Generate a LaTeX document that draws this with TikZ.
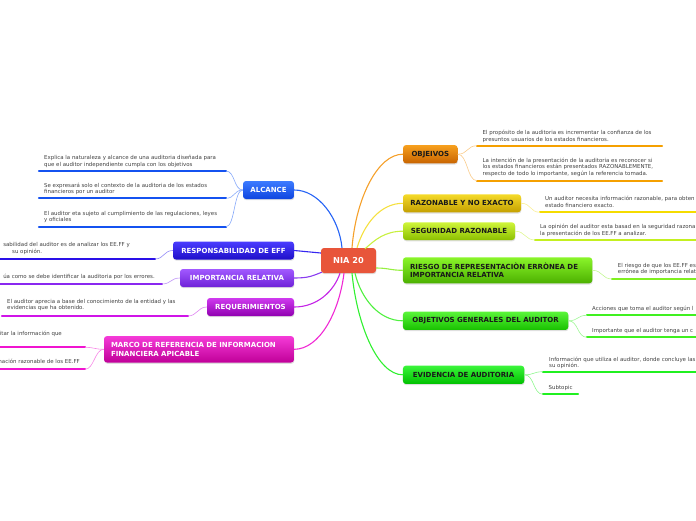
\documentclass[tikz,border=0pt]{standalone}
\usepackage{fontspec}
\setmainfont{DejaVu Sans}
\usetikzlibrary{shadows}
\definecolor{leafgray}{HTML}{404040}
\definecolor{niared}{HTML}{E8553A}
\definecolor{alcT}{HTML}{3D7BFF}\definecolor{alcB}{HTML}{0E45E0}\definecolor{alcC}{HTML}{2563F5}\definecolor{alcU}{HTML}{1452F0}
\definecolor{resT}{HTML}{4A3CFF}\definecolor{resB}{HTML}{1E0EC8}\definecolor{resC}{HTML}{3526F0}\definecolor{resU}{HTML}{2A10E8}
\definecolor{impT}{HTML}{A259FF}\definecolor{impB}{HTML}{6E22D8}\definecolor{impC}{HTML}{8A3CF0}\definecolor{impU}{HTML}{8A28F0}
\definecolor{reqT}{HTML}{CF3AEF}\definecolor{reqB}{HTML}{9000B0}\definecolor{reqC}{HTML}{C424E6}\definecolor{reqU}{HTML}{D014E8}
\definecolor{marT}{HTML}{F53BD8}\definecolor{marB}{HTML}{C00098}\definecolor{marC}{HTML}{F028D4}\definecolor{marU}{HTML}{F014D0}
\definecolor{objT}{HTML}{F7A01E}\definecolor{objB}{HTML}{C86400}\definecolor{objC}{HTML}{F5A02A}\definecolor{objU}{HTML}{F5A000}
\definecolor{razT}{HTML}{F5DA2A}\definecolor{razB}{HTML}{C4A000}\definecolor{razC}{HTML}{F5E040}\definecolor{razU}{HTML}{F5DC00}
\definecolor{segT}{HTML}{CFF53A}\definecolor{segB}{HTML}{8CC000}\definecolor{segC}{HTML}{C8F040}\definecolor{segU}{HTML}{C4F020}
\definecolor{rieT}{HTML}{8AF52A}\definecolor{rieB}{HTML}{4CB000}\definecolor{rieC}{HTML}{96F040}\definecolor{rieU}{HTML}{80F020}
\definecolor{ogT}{HTML}{5AF53A}\definecolor{ogB}{HTML}{18C000}\definecolor{ogC}{HTML}{50F040}\definecolor{ogU}{HTML}{40F020}
\definecolor{evT}{HTML}{3AF53A}\definecolor{evB}{HTML}{00C000}\definecolor{evC}{HTML}{30F030}\definecolor{evU}{HTML}{20F020}
\begin{document}
\begin{tikzpicture}[x=1pt,y=-1pt,
  mainbox/.style={rounded corners=3pt, inner sep=0pt, font=\fontsize{7}{8.3}\selectfont\bfseries,
    drop shadow={opacity=0.25, shadow xshift=0.4pt, shadow yshift=-1.2pt}},
  wtxt/.style={text=white},
  btxt/.style={text=black!90},
  leaf/.style={inner sep=0pt, align=left, anchor=north west, text=leafgray, font=\fontsize{5.45}{6.3}\selectfont},
  cut/.style={inner sep=0pt, text=leafgray, font=\fontsize{5.45}{6.3}\selectfont},
  conn/.style={line width=1.1pt},
  lconn/.style={line width=0.6pt},
  uline/.style={line width=2.2pt, line cap=round}]
\useasboundingbox (0,0) rectangle (696,520);
\clip (0,0) rectangle (696,520);

% ---------- main nodes ----------
\node[mainbox, fill=niared, wtxt, minimum width=55pt, minimum height=25pt, font=\fontsize{8.2}{9}\selectfont\bfseries] (nia) at (348.5,260.5) {NIA 20};
\node[mainbox, top color=alcT, bottom color=alcB, wtxt, minimum width=51pt, minimum height=18pt] (alc) at (268.5,190) {ALCANCE};
\node[mainbox, top color=resT, bottom color=resB, wtxt, minimum width=121pt, minimum height=18pt] (res) at (233.5,250.5) {RESPONSABILIDAD DE EFF};
\node[mainbox, top color=impT, bottom color=impB, wtxt, minimum width=114pt, minimum height=18pt] (imp) at (237,278) {IMPORTANCIA RELATIVA};
\node[mainbox, top color=reqT, bottom color=reqB, wtxt, minimum width=87pt, minimum height=18pt] (req) at (250.5,307) {REQUERIMIENTOS};
\node[mainbox, top color=marT, bottom color=marB, wtxt, minimum width=190pt, minimum height=26.5pt, text width=176pt, align=left] (mar) at (199,349.3) {MARCO DE REFERENCIA DE INFORMACION\\FINANCIERA APICABLE};
\node[mainbox, top color=objT, bottom color=objB, btxt, minimum width=54.5pt, minimum height=18.3pt] (obj) at (430.3,154.2) {OBJEIVOS};
\node[mainbox, top color=razT, bottom color=razB, btxt, minimum width=118pt, minimum height=18pt] (raz) at (462,203.3) {RAZONABLE Y NO EXACTO};
\node[mainbox, top color=segT, bottom color=segB, btxt, minimum width=112pt, minimum height=17.7pt] (seg) at (459,231.2) {SEGURIDAD RAZONABLE};
\node[mainbox, top color=rieT, bottom color=rieB, btxt, minimum width=189.3pt, minimum height=26pt, text width=175pt, align=left] (rie) at (497.6,270.3) {RIESGO DE REPRESENTACIÒN ERRÒNEA DE\\IMPORTANCIA RELATIVA};
\node[mainbox, top color=ogT, bottom color=ogB, btxt, minimum width=165.3pt, minimum height=18.3pt] (og) at (485.6,320.8) {OBJETIVOS GENERALES DEL AUDITOR};
\node[mainbox, top color=evT, bottom color=evB, btxt, minimum width=121.3pt, minimum height=18.3pt] (ev) at (463.6,374.8) {EVIDENCIA DE AUDITORIA};

% ---------- main connectors ----------
\draw[conn, alcC] ([xshift=-6.5pt]nia.north) .. controls +(-3,-30) and +(24,0) .. (alc.east);
\draw[conn, resC] ([yshift=7.5pt]nia.west) -- (res.east);
\draw[conn, impC] ([xshift=1pt,yshift=1pt]nia.south west) .. controls +(-10,4) and +(14,0) .. (imp.east);
\draw[conn, reqC] ([xshift=-8.5pt]nia.south) .. controls +(-6,18) and +(23,0) .. (req.east);
\draw[conn, marC] ([xshift=-4.5pt]nia.south) .. controls +(-5,40) and +(25,0) .. (mar.east);
\draw[conn, objC] ([xshift=3.5pt]nia.north) .. controls +(4,-50) and +(-25,0) .. (obj.west);
\draw[conn, razC] ([xshift=8.5pt]nia.north) .. controls +(7,-23) and +(-23,0) .. (raz.west);
\draw[conn, segC] ([xshift=16.5pt,yshift=-1pt]nia.north) .. controls +(10,-9) and +(-18,0) .. (seg.west);
\draw[conn, rieC] ([yshift=-7.5pt]nia.east) .. controls +(12,0) and +(-12,0) .. (rie.west);
\draw[conn, ogC] ([xshift=6.5pt]nia.south) .. controls +(6,25) and +(-24,0) .. (og.west);
\draw[conn, evC] ([xshift=3.5pt]nia.south) .. controls +(5,52) and +(-25,0) .. (ev.west);

% ---------- ALCANCE leaves ----------
\coordinate (a1l) at (39,171); \coordinate (a1r) at (226,171);
\coordinate (a2l) at (39,198.3); \coordinate (a2r) at (226,198.3);
\coordinate (a3l) at (39,226.7); \coordinate (a3r) at (226,226.7);
\node[leaf] (a1t) at (44,155.3) {Explica la naturaleza y alcance de una auditoria diseñada para\\que el auditor independiente cumpla con los objetivos};
\node[leaf] (a2t) at (44,183) {Se expresará solo el contexto de la auditoria de los estados\\financieros por un auditor};
\node[leaf] (a3t) at (44,211) {El auditor eta sujeto al cumplimiento de las regulaciones, leyes\\y oficiales};
\draw[uline, alcU] (a1l) -- (a1r);
\draw[uline, alcU] (a2l) -- (a2r);
\draw[uline, alcU] (a3l) -- (a3r);
\draw[lconn, alcC!55!white] (alc.west) .. controls +(-9,0) and +(9,0) .. (a1r);
\draw[lconn, alcC!55!white] (alc.west) .. controls +(-9,0) and +(9,0) .. (a2r);
\draw[lconn, alcC!55!white] (alc.west) .. controls +(-9,0) and +(9,0) .. (a3r);

% ---------- RESPONSABILIDAD leaf ----------
\coordinate (r1l) at (-5,259); \coordinate (r1r) at (155,259);
\node[cut, anchor=base east] (r1a) at (130,246.6) {sabilidad del auditor es de analizar los EE.FF y};
\node[cut, anchor=base west] (r1b) at (12,253.9) {su opinión.};
\draw[uline, resU] (r1l) -- (r1r);
\draw[lconn, resC!55!white] (res.west) .. controls +(-9,0) and +(9,0) .. (r1r);

% ---------- IMPORTANCIA leaf ----------
\coordinate (i1l) at (-5,284); \coordinate (i1r) at (162,284);
\node[cut, anchor=base east] (i1a) at (155,278.9) {úa como se debe identificar la auditoria por los errores.};
\draw[uline, impU] (i1l) -- (i1r);
\draw[lconn, impC!55!white] (imp.west) .. controls +(-9,0) and +(9,0) .. (i1r);

% ---------- REQUERIMIENTOS leaf ----------
\coordinate (q1l) at (2,316); \coordinate (q1r) at (188,316);
\node[leaf] (q1t) at (7,298.7) {El auditor aprecia a base del conocimiento de la entidad y las\\evidencias que ha obtenido.};
\draw[uline, reqU] (q1l) -- (q1r);
\draw[lconn, reqC!55!white] (req.west) .. controls +(-9,0) and +(9,0) .. (q1r);

% ---------- MARCO leaves ----------
\coordinate (m1l) at (-5,347.3); \coordinate (m1r) at (85,347.3);
\coordinate (m2l) at (-5,369.3); \coordinate (m2r) at (85,369.3);
\node[cut, anchor=base east] (m1a) at (62,335.6) {itar la información que};
\node[cut, anchor=base east] (m2a) at (80,363.3) {mación razonable de los EE.FF};
\draw[uline, marU] (m1l) -- (m1r);
\draw[uline, marU] (m2l) -- (m2r);
\draw[lconn, marC!55!white] (mar.west) .. controls +(-9,0) and +(9,0) .. (m1r);
\draw[lconn, marC!55!white] (mar.west) .. controls +(-9,0) and +(9,0) .. (m2r);

% ---------- OBJEIVOS leaves ----------
\coordinate (o1l) at (477,145.7); \coordinate (o1r) at (662,145.7);
\coordinate (o2l) at (477,180.7); \coordinate (o2r) at (662,180.7);
\node[leaf] (o1t) at (482.5,130.3) {El propósito de la auditoria es incrementar la confianza de los\\presuntos usuarios de los estados financieros.};
\node[leaf] (o2t) at (482.5,158) {La intención de la presentación de la auditoria es reconocer si\\los estados financieros están presentados RAZONABLEMENTE,\\respecto de todo lo importante, según la referencia tomada.};
\draw[uline, objU] (o1l) -- (o1r);
\draw[uline, objU] (o2l) -- (o2r);
\draw[lconn, objC!55!white] (obj.east) .. controls +(10,0) and +(-10,0) .. (o1l);
\draw[lconn, objC!55!white] (obj.east) .. controls +(10,0) and +(-10,0) .. (o2l);

% ---------- RAZONABLE leaf ----------
\coordinate (z1l) at (540,212.3); \coordinate (z1r) at (705,212.3);
\node[leaf] (z1t) at (545,196.3) {Un auditor necesita información razonable, para obten\\estado financiero exacto.};
\draw[uline, razU] (z1l) -- (z1r);
\draw[lconn, razC!55!white] (raz.east) .. controls +(10,0) and +(-10,0) .. (z1l);

% ---------- SEGURIDAD leaf ----------
\coordinate (s1l) at (535,240); \coordinate (s1r) at (705,240);
\node[leaf] (s1t) at (540,224.3) {La opinión del auditor esta basad en la seguridad razona\\la presentación de los EE.FF a analizar.};
\draw[uline, segU] (s1l) -- (s1r);
\draw[lconn, segC!55!white] (seg.east) .. controls +(10,0) and +(-10,0) .. (s1l);

% ---------- RIESGO leaf ----------
\coordinate (e1l) at (612,279); \coordinate (e1r) at (705,279);
\node[leaf] (e1t) at (617.7,262.7) {El riesgo de que los EE.FF es\\errónea de importancia relat};
\draw[uline, rieU] (e1l) -- (e1r);
\draw[lconn, rieC!55!white] (rie.east) .. controls +(10,0) and +(-10,0) .. (e1l);

% ---------- OBJETIVOS GENERALES leaves ----------
\coordinate (g1l) at (587,315.3); \coordinate (g1r) at (705,315.3);
\coordinate (g2l) at (587,337.3); \coordinate (g2r) at (705,337.3);
\node[leaf] (g1t) at (592,306) {Acciones que toma el auditor según l};
\node[leaf] (g2t) at (592,328) {Importante que el auditor tenga un c};
\draw[uline, ogU] (g1l) -- (g1r);
\draw[uline, ogU] (g2l) -- (g2r);
\draw[lconn, ogC!55!white] (og.east) .. controls +(10,0) and +(-10,0) .. (g1l);
\draw[lconn, ogC!55!white] (og.east) .. controls +(10,0) and +(-10,0) .. (g2l);

% ---------- EVIDENCIA leaves ----------
\coordinate (v1l) at (543,371.7); \coordinate (v1r) at (705,371.7);
\coordinate (v2l) at (543,394.3); \coordinate (v2r) at (578,394.3);
\node[leaf] (v1t) at (549,357) {Información que utiliza el auditor, donde concluye las\\su opinión.};
\node[leaf] (v2t) at (548.5,385.3) {Subtopic};
\draw[uline, evU] (v1l) -- (v1r);
\draw[uline, evU] (v2l) -- (v2r);
\draw[lconn, evC!55!white] (ev.east) .. controls +(10,0) and +(-10,0) .. (v1l);
\draw[lconn, evC!55!white] (ev.east) .. controls +(10,0) and +(-10,0) .. (v2l);
\end{tikzpicture}
\end{document}
